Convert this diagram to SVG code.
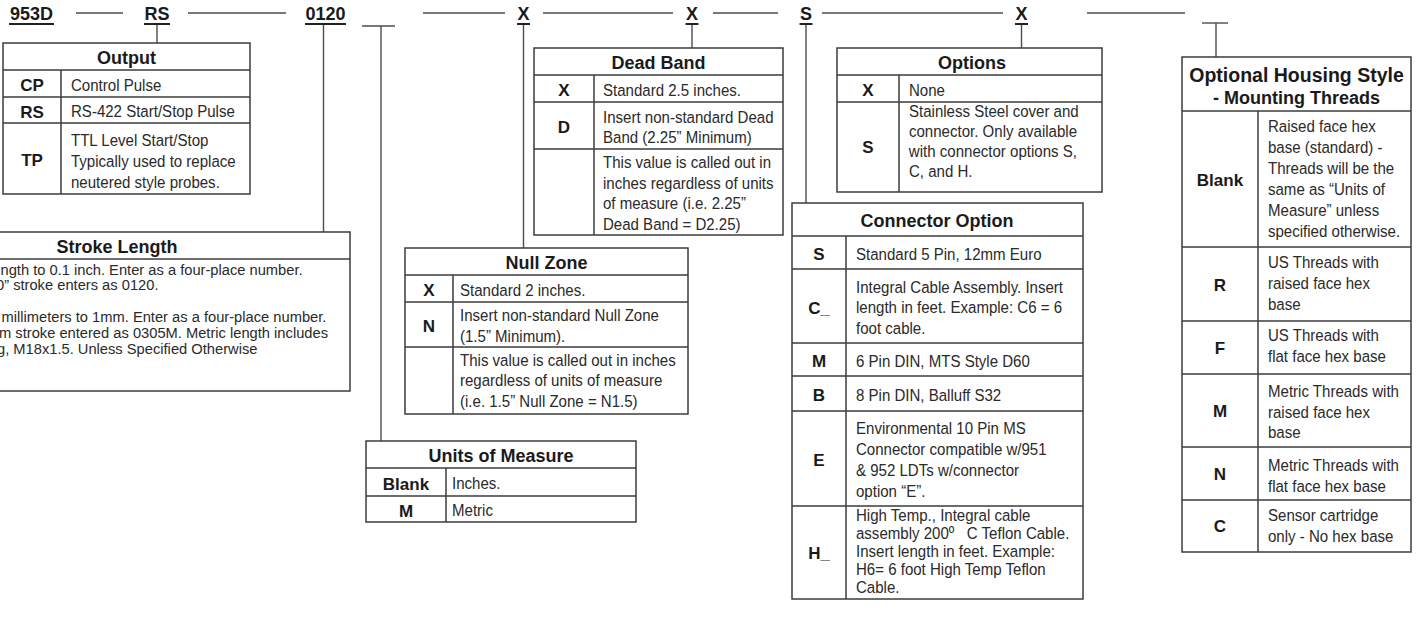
<svg xmlns="http://www.w3.org/2000/svg" width="1417" height="623" viewBox="0 0 1417 623">
<style>
.bg{fill:#fff}
.c{stroke:#4d4d4d;stroke-width:1.4;fill:none}
.b{fill:#fff;stroke:#3d3d3d;stroke-width:1.5}
.r{stroke:#3d3d3d;stroke-width:1.5;fill:none}
.u{stroke:#222;stroke-width:2}
text{font-family:"Liberation Sans",Arial,Helvetica,sans-serif;fill:#2a2a2a}
.lb,.h,.k{font-weight:bold;text-anchor:middle;fill:#1a1a1a}
.lb,.h{font-size:18px}
.k{font-size:17px}
.t{font-size:17px;transform-box:fill-box;transform-origin:0 50%;transform:scaleX(0.885)}
.s{font-size:14.7px}
</style>
<rect class="bg" width="1417" height="623"/>

<g id="connectors" class="c">
<line x1="76" y1="13" x2="123" y2="13"/>
<line x1="188" y1="13" x2="286" y2="13"/>
<line x1="423" y1="13" x2="505" y2="13"/>
<line x1="543" y1="13" x2="673" y2="13"/>
<line x1="713" y1="13" x2="778" y2="13"/>
<line x1="822" y1="13" x2="1003" y2="13"/>
<line x1="1087" y1="13" x2="1185" y2="13"/>
<line x1="362" y1="26" x2="395" y2="26"/>
<line x1="1202" y1="23" x2="1228" y2="23"/>
<line x1="157" y1="25" x2="157" y2="43"/>
<line x1="323.5" y1="25" x2="323.5" y2="232"/>
<line x1="381" y1="26" x2="381" y2="441"/>
<line x1="523.5" y1="25" x2="523.5" y2="248"/>
<line x1="692" y1="25" x2="692" y2="48"/>
<line x1="806" y1="25" x2="806" y2="203"/>
<line x1="1021.5" y1="25" x2="1021.5" y2="48"/>
<line x1="1216" y1="23" x2="1216" y2="57"/>
</g>

<g id="code-953D"><text class="lb" x="31.5" y="19.5">953D</text><line class="u" x1="9" y1="24" x2="54" y2="24"/></g>
<g id="code-RS"><text class="lb" x="157" y="19.5">RS</text><line class="u" x1="144" y1="24" x2="170" y2="24"/></g>
<g id="code-0120"><text class="lb" x="325.5" y="19.5">0120</text><line class="u" x1="305" y1="24" x2="346" y2="24"/></g>
<g id="code-X1"><text class="lb" x="523.5" y="19.5">X</text><line class="u" x1="517" y1="24" x2="530" y2="24"/></g>
<g id="code-X2"><text class="lb" x="692" y="19.5">X</text><line class="u" x1="685.5" y1="24" x2="698.5" y2="24"/></g>
<g id="code-S"><text class="lb" x="806" y="19.5">S</text><line class="u" x1="799.5" y1="24" x2="812.5" y2="24"/></g>
<g id="code-X3"><text class="lb" x="1021.5" y="19.5">X</text><line class="u" x1="1015" y1="24" x2="1028" y2="24"/></g>

<g id="output">
<rect class="b" x="3" y="43" width="247" height="151"/>
<path class="r" d="M3 70H250M3 97H250M3 123H250M61 70V194"/>
<text class="h" x="126.5" y="64">Output</text>
<text class="k" x="32" y="91">CP</text>
<text class="t" x="71" y="91">Control Pulse</text>
<text class="k" x="32" y="117.5">RS</text>
<text class="t" x="71" y="117.5">RS-422 Start/Stop Pulse</text>
<text class="k" x="32" y="166">TP</text>
<text class="t" x="71" y="146">TTL Level Start/Stop</text>
<text class="t" x="71" y="167">Typically used to replace</text>
<text class="t" x="71" y="188">neutered style probes.</text>
</g>

<g id="stroke-length">
<rect class="b" x="-120" y="232" width="470" height="159"/>
<path class="r" d="M-120 259H350"/>
<text class="h" x="117" y="252.5">Stroke Length</text>
<text class="s" x="0.5" y="274.5">ngth to 0.1 inch. Enter as a four-place number.</text>
<text class="s" x="-4" y="290">0” stroke enters as 0120.</text>
<text class="s" x="1.5" y="322">millimeters to 1mm. Enter as a four-place number.</text>
<text class="s" x="-1" y="338">m stroke entered as 0305M. Metric length includes</text>
<text class="s" x="-3" y="354">g, M18x1.5. Unless Specified Otherwise</text>
</g>

<g id="dead-band">
<rect class="b" x="534" y="48" width="249" height="187"/>
<path class="r" d="M534 75H783M534 102H783M534 149H783M594 75V235"/>
<text class="h" x="658.5" y="69">Dead Band</text>
<text class="k" x="564" y="96">X</text>
<text class="t" x="603" y="96">Standard 2.5 inches.</text>
<text class="k" x="564" y="133">D</text>
<text class="t" x="603" y="123">Insert non-standard Dead</text>
<text class="t" x="603" y="143.5">Band (2.25” Minimum)</text>
<text class="t" x="603" y="168.5">This value is called out in</text>
<text class="t" x="603" y="189">inches regardless of units</text>
<text class="t" x="603" y="209.5">of measure (i.e. 2.25”</text>
<text class="t" x="603" y="230">Dead Band = D2.25)</text>
</g>

<g id="null-zone">
<rect class="b" x="405" y="248" width="283" height="166"/>
<path class="r" d="M405 275H688M405 302H688M405 347H688M453 275V414"/>
<text class="h" x="546.5" y="269">Null Zone</text>
<text class="k" x="429" y="296">X</text>
<text class="t" x="460" y="296">Standard 2 inches.</text>
<text class="k" x="429" y="332">N</text>
<text class="t" x="460" y="321.5">Insert non-standard Null Zone</text>
<text class="t" x="460" y="342">(1.5” Minimum).</text>
<text class="t" x="460" y="366">This value is called out in inches</text>
<text class="t" x="460" y="386.5">regardless of units of measure</text>
<text class="t" x="460" y="407">(i.e. 1.5” Null Zone = N1.5)</text>
</g>

<g id="units-of-measure">
<rect class="b" x="366" y="441" width="270" height="81"/>
<path class="r" d="M366 468H636M366 496H636M446 468V522"/>
<text class="h" x="501" y="462">Units of Measure</text>
<text class="k" x="406" y="489.5">Blank</text>
<text class="t" x="452" y="489.5">Inches.</text>
<text class="k" x="406" y="516.5">M</text>
<text class="t" x="452" y="516.5">Metric</text>
</g>

<g id="options">
<rect class="b" x="837" y="48" width="265" height="144"/>
<path class="r" d="M837 75H1102M837 102H1102M899 75V192"/>
<text class="h" x="972" y="69">Options</text>
<text class="k" x="868" y="96">X</text>
<text class="t" x="909" y="96">None</text>
<text class="k" x="868" y="153">S</text>
<text class="t" x="909" y="117">Stainless Steel cover and</text>
<text class="t" x="909" y="137">connector. Only available</text>
<text class="t" x="909" y="157">with connector options S,</text>
<text class="t" x="909" y="177">C, and H.</text>
</g>

<g id="connector-option">
<rect class="b" x="792" y="203" width="291" height="396"/>
<path class="r" d="M792 236H1083M792 269H1083M792 343H1083M792 376H1083M792 411H1083M792 506H1083M846 236V599"/>
<text class="h" x="937" y="227">Connector Option</text>
<text class="k" x="819" y="260">S</text>
<text class="t" x="856" y="260">Standard 5 Pin, 12mm Euro</text>
<text class="k" x="819" y="313.5">C_</text>
<text class="t" x="856" y="293">Integral Cable Assembly. Insert</text>
<text class="t" x="856" y="313.5">length in feet. Example: C6 = 6</text>
<text class="t" x="856" y="334">foot cable.</text>
<text class="k" x="819" y="367">M</text>
<text class="t" x="856" y="367">6 Pin DIN, MTS Style D60</text>
<text class="k" x="819" y="401">B</text>
<text class="t" x="856" y="401">8 Pin DIN, Balluff S32</text>
<text class="k" x="819" y="466">E</text>
<text class="t" x="856" y="434">Environmental 10 Pin MS</text>
<text class="t" x="856" y="455">Connector compatible w/951</text>
<text class="t" x="856" y="476">&amp; 952 LDTs w/connector</text>
<text class="t" x="856" y="497">option “E”.</text>
<text class="k" x="819" y="558.5">H_</text>
<text class="t" x="856" y="521">High Temp., Integral cable</text>
<text class="t" x="856" y="539">assembly 200º&#160;&#160;&#160;C Teflon Cable.</text>
<text class="t" x="856" y="557">Insert length in feet. Example:</text>
<text class="t" x="856" y="575">H6= 6 foot High Temp Teflon</text>
<text class="t" x="856" y="593">Cable.</text>
</g>

<g id="housing-style">
<rect class="b" x="1182" y="57" width="229" height="495"/>
<path class="r" d="M1182 111H1411M1182 247H1411M1182 321H1411M1182 374H1411M1182 447H1411M1182 500H1411M1258 111V552"/>
<text class="h" x="1296.5" y="81.5" style="font-size:19.5px">Optional Housing Style</text>
<text class="h" x="1296.5" y="103.5">- Mounting Threads</text>
<text class="k" x="1220" y="185.5">Blank</text>
<text class="t" x="1268" y="132.5">Raised face hex</text>
<text class="t" x="1268" y="153.5">base (standard) -</text>
<text class="t" x="1268" y="174.5">Threads will be the</text>
<text class="t" x="1268" y="195.5">same as “Units of</text>
<text class="t" x="1268" y="216.5">Measure” unless</text>
<text class="t" x="1268" y="237.5">specified otherwise.</text>
<text class="k" x="1220" y="290.5">R</text>
<text class="t" x="1268" y="268">US Threads with</text>
<text class="t" x="1268" y="289">raised face hex</text>
<text class="t" x="1268" y="310">base</text>
<text class="k" x="1220" y="354">F</text>
<text class="t" x="1268" y="341.5">US Threads with</text>
<text class="t" x="1268" y="362.5">flat face hex base</text>
<text class="k" x="1220" y="417">M</text>
<text class="t" x="1268" y="397.5">Metric Threads with</text>
<text class="t" x="1268" y="418">raised face hex</text>
<text class="t" x="1268" y="438.5">base</text>
<text class="k" x="1220" y="480">N</text>
<text class="t" x="1268" y="471.5">Metric Threads with</text>
<text class="t" x="1268" y="492">flat face hex base</text>
<text class="k" x="1220" y="531.5">C</text>
<text class="t" x="1268" y="521">Sensor cartridge</text>
<text class="t" x="1268" y="542.5">only - No hex base</text>
</g>
</svg>
